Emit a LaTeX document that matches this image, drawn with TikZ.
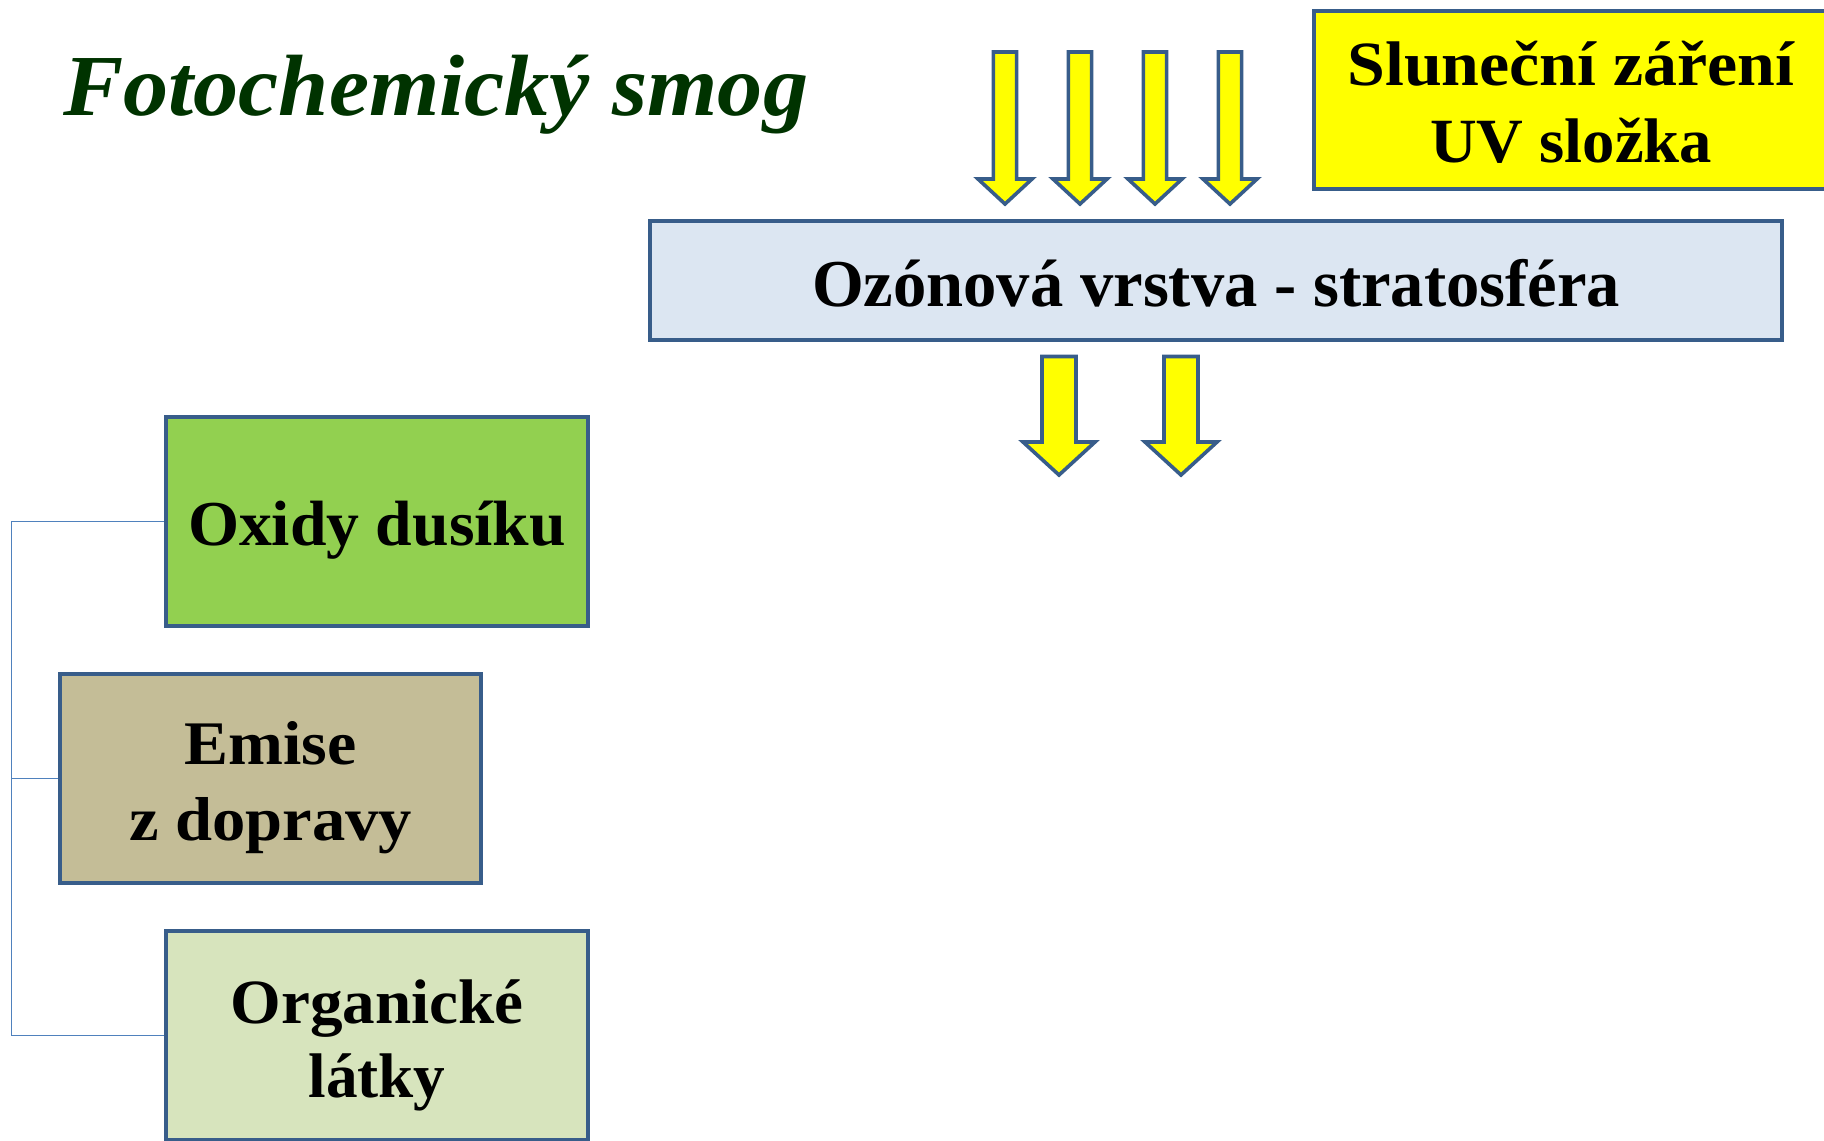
\documentclass[tikz,border=0pt]{standalone}
\usepackage{fontspec}
\setmainfont{Liberation Serif}
\usepackage{graphicx}

\definecolor{edge}{HTML}{385D8A}
\definecolor{link}{HTML}{4F81BD}
\definecolor{sunfill}{HTML}{FFFF00}
\definecolor{ozonefill}{HTML}{DCE6F2}
\definecolor{noxfill}{HTML}{92D050}
\definecolor{trafficfill}{HTML}{C4BD97}
\definecolor{organicfill}{HTML}{D7E4BD}
\definecolor{titlegreen}{RGB}{0,51,0}

% one line of text stretched to a given width (in pt)
\newcommand\fitline[2]{\resizebox{#1pt}{\height}{#2}}
% zero-size label whose first baseline sits #1 pt above the node centre
\newcommand\boxlabel[2]{\makebox[0pt]{\raisebox{#1pt}[0pt][0pt]{#2}}}

\begin{document}
\begin{tikzpicture}[x=1pt,y=-1pt,
  panel/.style={draw=edge, line width=4.6pt, inner sep=0pt, rectangle},
  link/.style={draw=link, line width=1.7pt},
  arrowshape/.style={draw=edge, fill=sunfill, line width=3.6pt, line join=miter},
  pics/blockarrow/.style n args={4}{code={%
    \draw[arrowshape] (-#1,0) -- (#1,0) -- (#1,#3) -- (#2,#3) -- (0,#4)
      -- (-#2,#3) -- (-#1,#3) -- cycle;}}
]
\fill[white] (0,0) rectangle (1824,1141);
\useasboundingbox (0,0) rectangle (1824,1141);

% title
\node[anchor=base, inner sep=0pt, text=titlegreen,
      font=\fontsize{87}{100}\selectfont\bfseries\itshape] (title) at (435.7,115)
  {\fitline{745}{Fotochemický smog}};

% sunlight box
\node[panel, fill=sunfill, minimum width=514pt, minimum height=178pt] (sun) at (1571,100)
  {\boxlabel{15}{\parbox[t]{480pt}{\centering\fontsize{63}{77}\selectfont\bfseries
     \fitline{447}{Sluneční záření}\\\fitline{282}{UV složka}}}};

% ozone layer
\node[panel, fill=ozonefill, minimum width=1132pt, minimum height=119pt] (ozone) at (1216,280.5)
  {\boxlabel{-25.5}{\fontsize{67}{80}\selectfont\bfseries\fitline{808}{Ozónová vrstva - stratosféra}}};

% incoming radiation
\foreach \cx in {1005,1080,1155,1230}
  \pic at (\cx,52) {blockarrow={11.6}{27}{127}{152}};
% radiation passing through the layer
\foreach \cx in {1059,1181}
  \pic at (\cx,356.5) {blockarrow={17}{36}{85.5}{118.5}};

% precursor boxes
\node[panel, fill=noxfill, minimum width=422pt, minimum height=209pt] (nox) at (377,521.5)
  {\boxlabel{-24.2}{\fontsize{64}{77}\selectfont\bfseries\fitline{378}{Oxidy dusíku}}};
\node[panel, fill=trafficfill, minimum width=421pt, minimum height=209pt] (traffic) at (270.5,778.5)
  {\boxlabel{14.5}{\parbox[t]{400pt}{\centering\fontsize{62}{76}\selectfont\bfseries
     \fitline{172}{Emise}\\\fitline{283}{z dopravy}}}};
\node[panel, fill=organicfill, minimum width=422pt, minimum height=209pt] (organic) at (377,1035.5)
  {\boxlabel{12.2}{\parbox[t]{400pt}{\centering\fontsize{63}{74}\selectfont\bfseries
     \fitline{293}{Organické}\\\fitline{137}{látky}}}};

% bracket joining the three precursors
\coordinate (trunk) at (11.5,521.5);
\draw[link] (nox.west) -- (nox.west -| trunk) -- (organic.west -| trunk) -- (organic.west);
\draw[link] (traffic.west -| trunk) -- (traffic.west);
\end{tikzpicture}
\end{document}
